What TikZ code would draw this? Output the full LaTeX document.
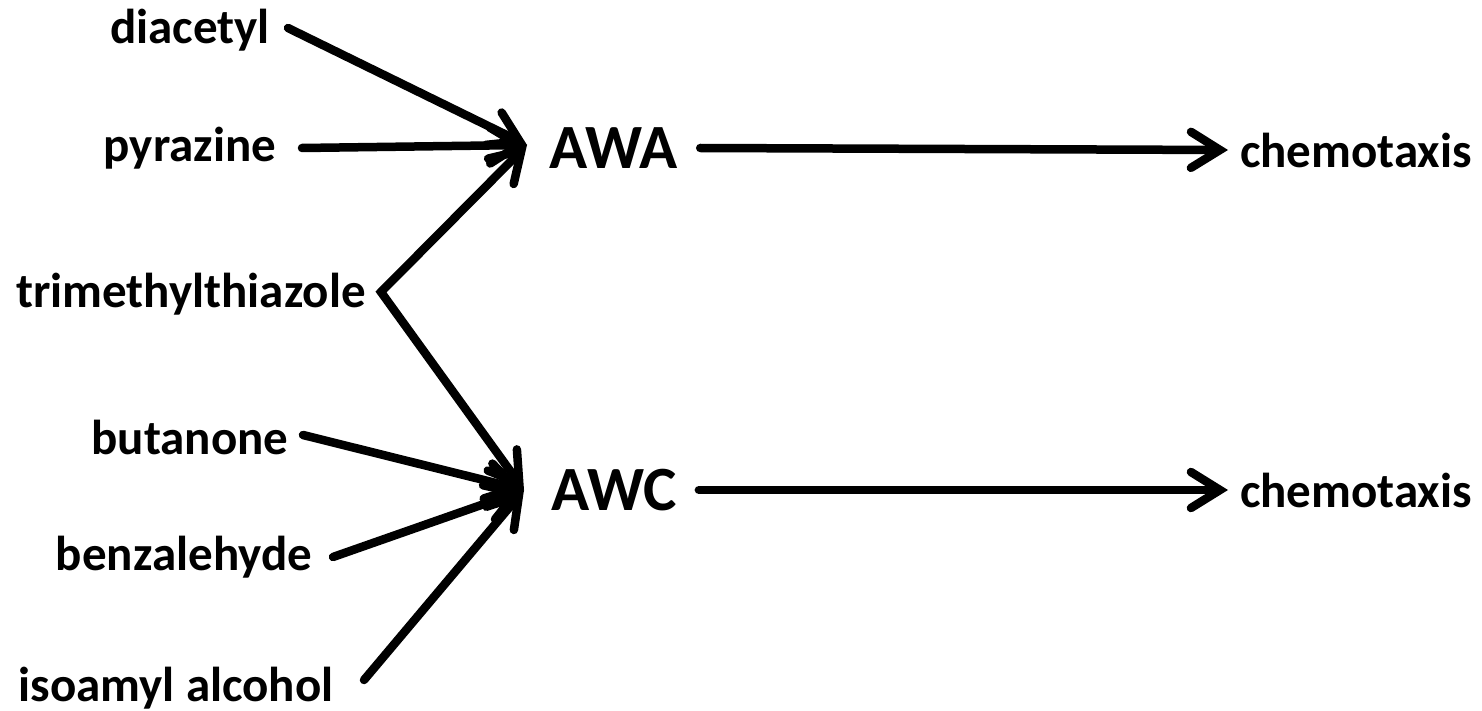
\documentclass[tikz,border=0pt]{standalone}
\usepackage{fontspec}
\setmainfont{Carlito}
\usetikzlibrary{arrows.meta}
\begin{document}
\begin{tikzpicture}[x=1pt,y=1pt,
  lbl/.style={font=\fontsize{49}{53}\selectfont\bfseries, inner sep=0pt, anchor=center},
  cell/.style={font=\fontsize{63}{67}\selectfont\bfseries, inner sep=0pt, anchor=center},
  barb/.tip={Straight Barb[length=29pt,width=36pt,line width=8.5pt,line cap=round]},
  link/.style={line width=8.5pt, line cap=round, line join=miter, -barb},
  bilink/.style={line width=8.5pt, line cap=round, line join=miter, barb-barb}]
\useasboundingbox (0,0) rectangle (1482,-711);
% odorants
\node[lbl] (dia) at (190,-30) {diacetyl};
\node[lbl] (pyr) at (190,-148) {pyrazine};
\node[lbl] (tmt) at (191,-294) {trimethylthiazole};
\node[lbl] (but) at (190,-437) {butanone};
\node[lbl] (ben) at (184,-557) {benzalehyde};
\node[lbl] (iso) at (176,-688) {isoamyl alcohol};
% sensory neurons
\node[cell] (awa) at (614,-148) {AWA};
\node[cell] (awc) at (614,-490) {AWC};
% behaviour
\node[lbl] (cha) at (1356,-150) {chemotaxis};
\node[lbl] (chc) at (1356,-490) {chemotaxis};
% arrow targets and branch point
\coordinate (awain) at (527,-145);
\coordinate (awcin) at (524,-490);
\coordinate (fork) at (381,-292);
% inputs to AWA
\draw[link] (288,-28) -- (awain);
\draw[link] (302,-148) -- (awain);
% trimethylthiazole feeds both neurons
\draw[bilink] (awain) -- (fork) -- (awcin);
% inputs to AWC
\draw[link] (303,-435) -- (awcin);
\draw[link] (333,-557) -- (awcin);
\draw[link] (364,-680) -- (awcin);
% outputs
\draw[link] (awa.east) ++(22,0) coordinate (awaout) -- (1228,-150);
\draw[link] (awc.east) ++(22,0) coordinate (awcout) -- (1228,-490);
\end{tikzpicture}
\end{document}
